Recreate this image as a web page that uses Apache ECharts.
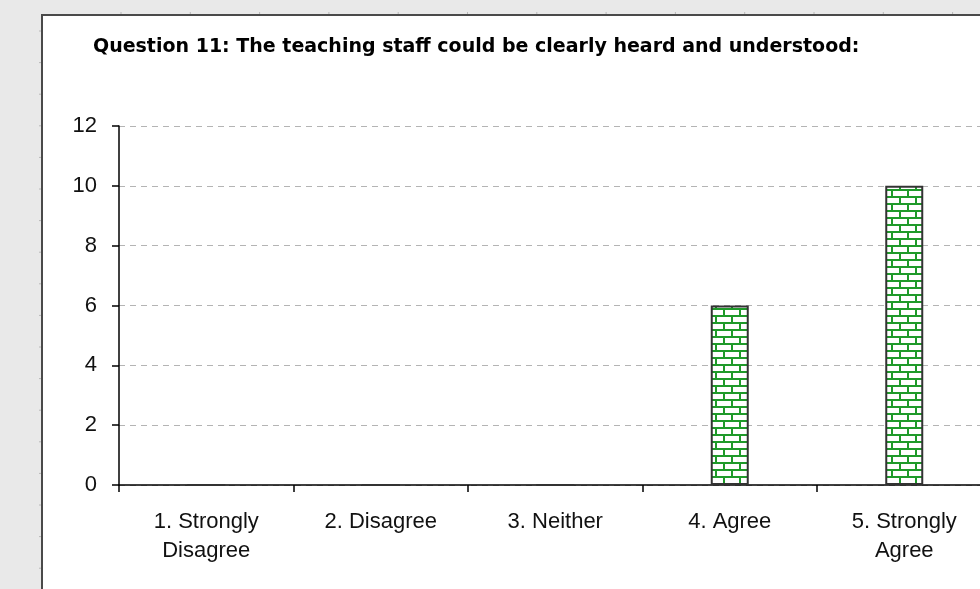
<!DOCTYPE html>
<html>
<head>
<meta charset="utf-8">
<style>
  html, body { margin: 0; padding: 0; background: #e9e9e9; }
  #chart { width: 980px; height: 589px; }
</style>
<script src="https://cdn.jsdelivr.net/npm/echarts@6/dist/echarts.min.js"></script>
</head>
<body>
<div id="chart"></div>
<script>
// Survey responses for question 11
const titleText = 'Question 11: The teaching staff could be clearly heard and understood:';
const categories = ['1. Strongly\nDisagree', '2. Disagree', '3. Neither', '4. Agree', '5. Strongly\nAgree'];
const responseCounts = [0, 0, 0, 6, 10];
const yTicks = { min: 0, max: 12, interval: 2 };

// Brick fill used for the bars
function brickPattern() {
  const c = document.createElement('canvas');
  c.width = 16; c.height = 14;
  const g = c.getContext('2d');
  g.fillStyle = '#ffffff';
  g.fillRect(0, 0, 16, 14);
  g.fillStyle = '#1f9a2a';
  g.fillRect(0, 0, 16, 2);
  g.fillRect(0, 7, 16, 2);
  g.fillRect(3, 0, 2, 7);
  g.fillRect(11, 7, 2, 7);
  return c;
}

const chart = echarts.init(document.getElementById('chart'), null, { renderer: 'canvas' });

// faint ruler marks along the outer frame
const frameMarks = [];
for (let i = 0; i < 14; i++) {
  frameMarks.push({ type: 'line', z: -5, silent: true,
    shape: { x1: 121 + i * 69.3, y1: 12, x2: 121 + i * 69.3, y2: 14 },
    style: { stroke: '#b8b8b8', lineWidth: 1 } });
}
for (let i = 0; i < 18; i++) {
  frameMarks.push({ type: 'line', z: -5, silent: true,
    shape: { x1: 39, y1: 31 + i * 31.6, x2: 41, y2: 31 + i * 31.6 },
    style: { stroke: '#b8b8b8', lineWidth: 1 } });
}

const labelFont = { fontFamily: 'Liberation Sans', fontSize: 22, color: '#111' };

chart.setOption({
  backgroundColor: '#e9e9e9',
  animation: false,
  title: {
    text: titleText,
    left: 88, top: 33,
    textStyle: { fontFamily: 'DejaVu Sans', fontWeight: 'bold', fontSize: 19, color: '#000' }
  },
  graphic: [
    { type: 'rect', z: -10, silent: true,
      shape: { x: 42, y: 15, width: 960, height: 600 },
      style: { fill: '#ffffff', stroke: '#4a4a4a', lineWidth: 2 } }
  ].concat(frameMarks),
  grid: {
    left: 119, top: 126, height: 359, width: 872.5,
    containLabel: false, outerBoundsMode: 'none'
  },
  xAxis: {
    type: 'category',
    data: categories,
    axisLine: { lineStyle: { color: '#000', width: 1.5 } },
    axisTick: { show: true, length: 7, alignWithLabel: false, lineStyle: { color: '#000', width: 1.5 } },
    axisLabel: Object.assign({ interval: 0, margin: 22, lineHeight: 29 }, labelFont),
    splitLine: { show: false }
  },
  yAxis: {
    type: 'value',
    min: yTicks.min, max: yTicks.max, interval: yTicks.interval,
    axisLine: { show: true, lineStyle: { color: '#000', width: 1.5 } },
    axisTick: { show: true, length: 7, lineStyle: { color: '#000', width: 1.5 } },
    axisLabel: Object.assign({ margin: 22 }, labelFont),
    splitLine: { show: true, lineStyle: { color: '#b4b4b4', type: [6, 5], width: 1 } }
  },
  series: [{
    type: 'bar',
    data: responseCounts,
    barWidth: 38,
    itemStyle: {
      color: { image: brickPattern(), repeat: 'repeat' },
      borderColor: '#333333',
      borderWidth: 2
    }
  }]
});
</script>
</body>
</html>
